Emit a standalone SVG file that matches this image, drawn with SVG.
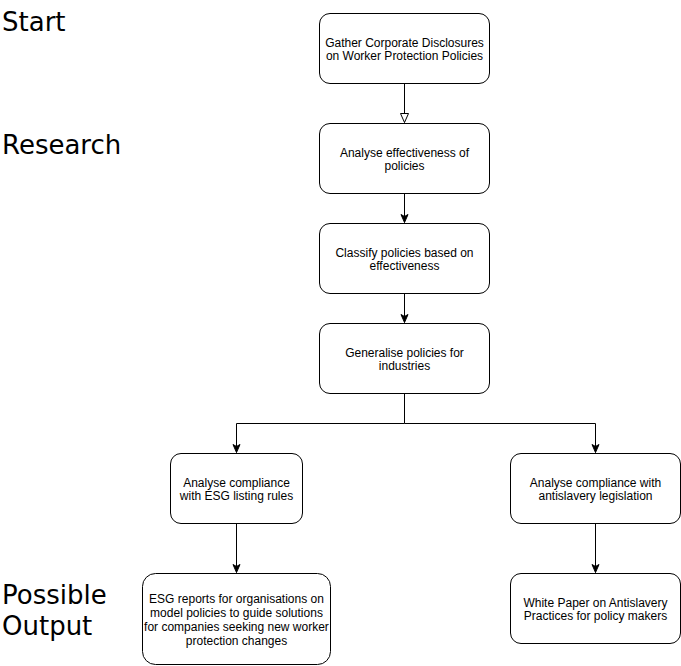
<svg xmlns="http://www.w3.org/2000/svg" width="681" height="666" viewBox="0 0 681 666">
<style>
.box{fill:#fff;stroke:#000;stroke-width:1}
.t{font-family:"Liberation Sans",Arial,sans-serif;font-size:12px;fill:#000;text-anchor:middle}
.lbl{font-family:"DejaVu Sans",Verdana,sans-serif;font-size:26px;fill:#000}
.e{fill:none;stroke:#000;stroke-width:1}
</style>
<defs>
<marker id="open" markerWidth="12" markerHeight="12" refX="10" refY="5" orient="auto" markerUnits="userSpaceOnUse" viewBox="0 0 12 10">
<path d="M1,1 L10,5 L1,9 Z" fill="#fff" stroke="#000" stroke-width="1"/>
</marker>
<marker id="fill" markerWidth="10" markerHeight="10" refX="9" refY="5" orient="auto" markerUnits="userSpaceOnUse" viewBox="0 0 10 10">
<path d="M1,1.5 L9,5 L1,8.5 L3,5 Z" fill="#000" stroke="#000" stroke-width="1"/>
</marker>
</defs>
<rect width="681" height="666" fill="#fff"/>
<g id="labels">
<text class="lbl" x="2" y="31">Start</text>
<text class="lbl" x="2" y="154">Research</text>
<text class="lbl" x="2" y="604">Possible</text>
<text class="lbl" x="2" y="635">Output</text>
</g>
<g id="connectors">
<path class="e" d="M404.5,83.5 V122.5" marker-end="url(#open)"/>
<path class="e" d="M404.5,193.5 V222.5" marker-end="url(#fill)"/>
<path class="e" d="M404.5,293.5 V322.5" marker-end="url(#fill)"/>
<path class="e" d="M404.5,393.5 V423.5 H236.5 V452.5" marker-end="url(#fill)"/>
<path class="e" d="M404.5,423.5 H595.5 V452.5" marker-end="url(#fill)"/>
<path class="e" d="M236.5,523.5 V572.5" marker-end="url(#fill)"/>
<path class="e" d="M595.5,523.5 V572.5" marker-end="url(#fill)"/>
</g>
<g id="n1">
<rect class="box" x="319.5" y="13.5" width="170" height="70" rx="10.5"/>
<text class="t" x="404.5" y="47">Gather Corporate Disclosures</text>
<text class="t" x="404.5" y="60">on Worker Protection Policies</text>
</g>
<g id="n2">
<rect class="box" x="319.5" y="123.5" width="170" height="70" rx="10.5"/>
<text class="t" x="404.5" y="157">Analyse effectiveness of</text>
<text class="t" x="404.5" y="170">policies</text>
</g>
<g id="n3">
<rect class="box" x="319.5" y="223.5" width="170" height="70" rx="10.5"/>
<text class="t" x="404.5" y="257">Classify policies based on</text>
<text class="t" x="404.5" y="270">effectiveness</text>
</g>
<g id="n4">
<rect class="box" x="319.5" y="323.5" width="170" height="70" rx="10.5"/>
<text class="t" x="404.5" y="357">Generalise policies for</text>
<text class="t" x="404.5" y="370">industries</text>
</g>
<g id="n5">
<rect class="box" x="170.5" y="453.5" width="132" height="70" rx="10.5"/>
<text class="t" x="236.5" y="487">Analyse compliance</text>
<text class="t" x="236.5" y="500">with ESG listing rules</text>
</g>
<g id="n6">
<rect class="box" x="510.5" y="453.5" width="170" height="70" rx="10.5"/>
<text class="t" x="595.5" y="487">Analyse compliance with</text>
<text class="t" x="595.5" y="500">antislavery legislation</text>
</g>
<g id="n7">
<rect class="box" x="142.5" y="573.5" width="188" height="91" rx="13"/>
<text class="t" x="236.5" y="603">ESG reports for organisations on</text>
<text class="t" x="236.5" y="617">model policies to guide solutions</text>
<text class="t" x="236.5" y="631">for companies seeking new worker</text>
<text class="t" x="236.5" y="645">protection changes</text>
</g>
<g id="n8">
<rect class="box" x="510.5" y="573.5" width="170" height="70" rx="10.5"/>
<text class="t" x="595.5" y="607">White Paper on Antislavery</text>
<text class="t" x="595.5" y="620">Practices for policy makers</text>
</g>
</svg>
